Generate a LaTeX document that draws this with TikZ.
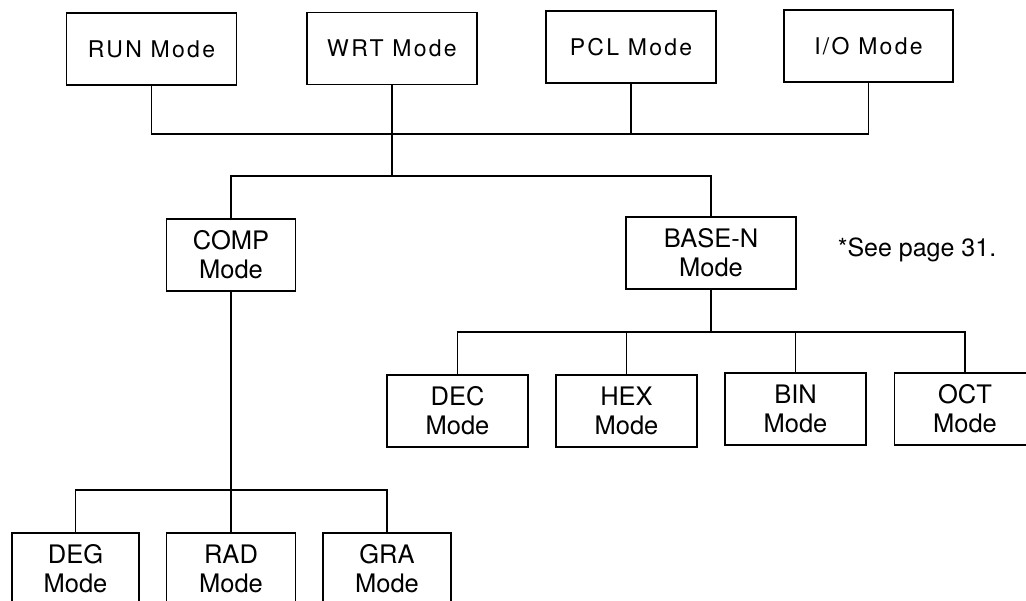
\documentclass[tikz,border=0pt]{standalone}
\usepackage{fontspec}
\setmainfont{TeX Gyre Heros}
\usepackage{tikz}
\usetikzlibrary{positioning,calc}

\begin{document}
\begin{tikzpicture}[x=1pt, y=-1pt,
  topbox/.style={rectangle, draw, line width=1.8pt, minimum width=170pt, minimum height=72pt,
                 inner sep=0pt, font=\fontsize{23}{27}\selectfont\addfontfeature{LetterSpace=10}},
  modebox/.style={rectangle, draw, line width=1.8pt, minimum width=#1, minimum height=72pt,
                  inner sep=0pt, align=center, font=\fontsize{25.5}{29}\selectfont},
  link/.style={line width=1.8pt},
  note/.style={font=\fontsize{25}{29}\selectfont}
]
\useasboundingbox (0,0) rectangle (1026,601);

% top row
\node[topbox] (run) at (151.5, 49)  {RUN Mode};
\node[topbox] (wrt) at (392, 48.5)  {WRT Mode};
\node[topbox] (pcl) at (631, 47)    {PCL Mode};
\node[topbox, minimum width=169pt] (io) at (868.5, 46) {I/O Mode};

% second level
\node[modebox=129pt] (comp)  at (231, 255) {COMP\\Mode};
\node[modebox=170pt] (basen) at (711, 253) {BASE-N\\Mode};
\node[note] (seepage) at (917, 250) {*See page 31.};

% BASE-N children
\node[modebox=141pt] (dec) at (457.5, 411) {DEC\\Mode};
\node[modebox=141pt] (hex) at (626.5, 411) {HEX\\Mode};
\node[modebox=141pt] (bin) at (795.5, 409) {BIN\\Mode};
\node[modebox=141pt] (oct) at (965, 409)   {OCT\\Mode};

% COMP children
\node[modebox=127pt] (deg) at (75.5, 569) {DEG\\Mode};
\node[modebox=129pt] (rad) at (231, 569)  {RAD\\Mode};
\node[modebox=128pt] (gra) at (387, 569)  {GRA\\Mode};

\coordinate (topbus)  at (392, 134);
\coordinate (midbus)  at (392, 176);
\coordinate (basebus) at (711, 332);
\coordinate (compbus) at (231, 490);

\draw[link] (run.south) |- (topbus) -| (io.south);
\draw[link] (pcl.south) -- (pcl.south |- topbus);
\draw[link] (wrt.south) -- (midbus);
\draw[link] (comp.north) |- (midbus) -| (basen.north);

\draw[link] (basen.south) -- (basebus);
\draw[link] (dec.north) |- (basebus) -| (oct.north);
\draw[link] (hex.north) -- (hex.north |- basebus);
\draw[link] (bin.north) -- (bin.north |- basebus);

\draw[link] (comp.south) -- (rad.north);
\draw[link] (deg.north) |- (compbus) -| (gra.north);

\end{tikzpicture}
\end{document}
